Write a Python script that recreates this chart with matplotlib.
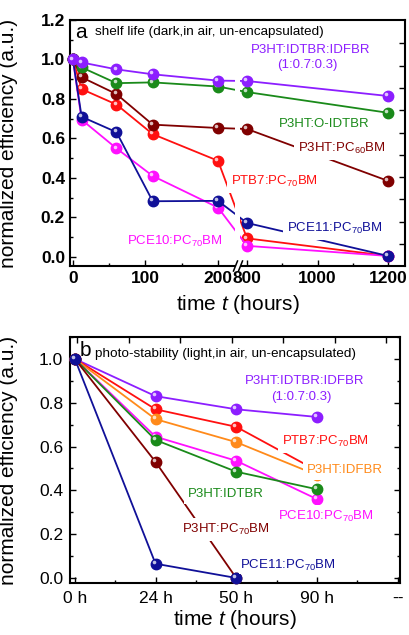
import numpy as np
import matplotlib.pyplot as plt
from matplotlib import transforms
from matplotlib.patches import Rectangle
from matplotlib.ticker import MultipleLocator, FixedLocator, FormatStrFormatter

plt.rcParams['font.family'] = ['Liberation Sans', 'DejaVu Sans']
plt.rcParams['mathtext.fontset'] = 'custom'
plt.rcParams['mathtext.rm'] = 'Liberation Sans'
plt.rcParams['mathtext.it'] = 'Liberation Sans:italic'
plt.rcParams['mathtext.bf'] = 'Liberation Sans:bold'

# panel a: shelf life (dark, in air)
shelf_hours = [0, 12, 60, 110, 200, 800, 1200]
shelf_ternary = [1.0, 0.985, 0.95, 0.925, 0.893, 0.891, 0.815]
shelf_oidtbr = [1.0, 0.96, 0.88, 0.884, 0.863, 0.835, 0.73]
shelf_pc60 = [1.0, 0.91, 0.825, 0.67, 0.653, 0.648, 0.385]
shelf_ptb7 = [1.0, 0.85, 0.772, 0.622, 0.487, 0.094, 0.005]
shelf_pce11 = [1.0, 0.71, 0.632, 0.282, 0.284, 0.172, 0.005]
shelf_pce10 = [1.0, 0.695, 0.55, 0.41, 0.25, 0.056, 0.005]

# panel b: photo-stability (light, in air)
photo_ticks = ['0 h', '24 h', '50 h', '90 h', '--']
photo_ternary = [1.0, 0.83, 0.77, 0.735]
photo_ptb7 = [1.0, 0.77, 0.69, 0.49]
photo_idfbr = [1.0, 0.725, 0.62, 0.47]
photo_pce10 = [1.0, 0.645, 0.535, 0.36]
photo_idtbr = [1.0, 0.63, 0.485, 0.405]
photo_pc70 = [1.0, 0.53, 0.0]
photo_pce11 = [1.0, 0.065, 0.0]

c_purple = '#8C1EFF'
c_green = '#1A8A1A'
c_dred = '#800000'
c_red = '#FF1010'
c_blue = '#101098'
c_mag = '#FF10FF'
c_orange = '#FF8A1A'


def series(ax, x, y, color, z):
    ax.plot(x, y, '-', color=color, lw=1.3, marker='o', ms=7.5, mfc=color, mec=color,
            zorder=z, clip_on=False)
    # little specular spot so the markers look like balls
    hl = transforms.offset_copy(ax.transData, fig=ax.figure, x=-1.3, y=1.3, units='points')
    ax.plot(x, y, 'o', ms=2.6, color='white', alpha=0.75, mec='none', transform=hl,
            zorder=z + 0.1, clip_on=False)


def tag(ax, x, y, s, color, pad=0.3):
    ax.text(x, y, s, color=color, fontsize=9.5, ha='center', va='baseline', zorder=20,
            bbox=dict(boxstyle='square,pad=%g' % pad, fc='white', ec='none'))


def style(ax, bold):
    for sp in ax.spines.values():
        sp.set_linewidth(1.5)
    ax.tick_params(which='major', direction='in', length=4, width=1.0)
    ax.tick_params(which='minor', direction='in', length=2.5, width=1.0)
    for lab in ax.get_xticklabels() + ax.get_yticklabels():
        lab.set_fontsize(12.5)
        if bold:
            lab.set_fontweight('bold')


# broken time axis: 0-200 h wide, 800-1200 h compressed
def fwd(x):
    return np.interp(x, [-100, 200, 800, 2000], [-69.65, 148, 177, 600.2])


def inv(u):
    return np.interp(u, [-69.65, 148, 177, 600.2], [-100, 200, 800, 2000])


fig = plt.figure(figsize=(4.10, 6.35), dpi=100)

# ---------------- panel a ----------------
ax = fig.add_axes([70 / 410, 1 - 266 / 635, 335 / 410, 246 / 635])
ax.set_xscale('function', functions=(fwd, inv))
ax.set_xlim(-4, 1248)
ax.set_ylim(-0.046, 1.2)

series(ax, shelf_hours, shelf_ptb7, c_red, 3)
series(ax, shelf_hours, shelf_pce10, c_mag, 4)
series(ax, shelf_hours, shelf_pce11, c_blue, 5)
series(ax, shelf_hours, shelf_pc60, c_dred, 6)
series(ax, shelf_hours, shelf_oidtbr, c_green, 7)
series(ax, shelf_hours, shelf_ternary, c_purple, 8)

ax.set_xticks([0, 100, 200, 800, 1000, 1200])
ax.xaxis.set_minor_locator(FixedLocator([50, 150, 900, 1100]))
ax.set_xticklabels(['0', '100', '200', '800', '1000', '1200'])
ax.yaxis.set_major_locator(MultipleLocator(0.2))
ax.yaxis.set_minor_locator(MultipleLocator(0.1))
ax.yaxis.set_major_formatter(FormatStrFormatter('%.1f'))
style(ax, True)
ax.tick_params(axis='x', which='both', pad=3.6, top=False)
ax.tick_params(axis='y', which='both', pad=3.6, right=False)

# right-hand ticks (own spacing, as in the original)
rt = ax.twinx()
rt.set_ylim(0, 246)
rt.set_yticks(np.arange(22, 230, 22.3))
rt.tick_params(axis='y', direction='in', length=4, width=1.0, labelright=False)
for sp in rt.spines.values():
    sp.set_visible(False)

# axis break
ax.add_patch(Rectangle((165.5 / 335, -0.012), 4.5 / 335, 0.99, transform=ax.transAxes,
                       fc='white', ec='none', zorder=15, clip_on=False))
for x0 in (233.5, 238.5):
    ax.plot([(x0 - 70) / 335, (x0 + 4 - 70) / 335], [-5 / 246, 5 / 246], color='k',
            lw=1.1, transform=ax.transAxes, clip_on=False, zorder=16)

ax.set_ylabel('normalized efficiency (a.u.)', fontsize=15)
ax.yaxis.set_label_coords(-0.155, 0.5)
ax.set_xlabel('time $t$ (hours)', fontsize=15)
ax.xaxis.set_label_coords(0.5, -0.11)

ax.text(5 / 335, 0.927, 'a', fontsize=15, transform=ax.transAxes, va='baseline', zorder=20)
ax.text(25 / 335, 0.939, 'shelf life (dark,in air, un-encapsulated)', fontsize=9.7,
        transform=ax.transAxes, va='baseline', zorder=20)
tag(ax, 981, 1.033, 'P3HT:IDTBR:IDFBR', c_purple)
tag(ax, 970, 0.957, '(1:0.7:0.3)', c_purple)
tag(ax, 1020, 0.658, 'P3HT:O-IDTBR', c_green)
tag(ax, 1069, 0.532, 'P3HT:PC$_{60}$BM', c_dred)
tag(ax, 879, 0.365, 'PTB7:PC$_{70}$BM', c_red)
tag(ax, 1050, 0.127, 'PCE11:PC$_{70}$BM', c_blue)
tag(ax, 141, 0.061, 'PCE10:PC$_{70}$BM', c_mag)

# ---------------- panel b ----------------
bx = fig.add_axes([70 / 410, 1 - 583 / 635, 330 / 410, 246 / 635])
bx.set_xlim(-0.06, 4.03)
bx.set_ylim(-0.023, 1.1)

series(bx, range(len(photo_ternary)), photo_ternary, c_purple, 3)
series(bx, range(len(photo_ptb7)), photo_ptb7, c_red, 4)
series(bx, range(len(photo_idfbr)), photo_idfbr, c_orange, 5)
series(bx, range(len(photo_pce10)), photo_pce10, c_mag, 6)
series(bx, range(len(photo_idtbr)), photo_idtbr, c_green, 7)
series(bx, range(len(photo_pc70)), photo_pc70, c_dred, 8)
series(bx, range(len(photo_pce11)), photo_pce11, c_blue, 9)

bx.set_xticks(range(len(photo_ticks)))
bx.set_xticklabels(photo_ticks)
bx.xaxis.set_minor_locator(FixedLocator([0.5, 1.5, 2.5, 3.5]))
bx.yaxis.set_major_locator(MultipleLocator(0.2))
bx.yaxis.set_minor_locator(MultipleLocator(0.1))
bx.yaxis.set_major_formatter(FormatStrFormatter('%.1f'))
style(bx, False)
bx.tick_params(axis='x', which='both', pad=5.8, top=False)
bx.tick_params(axis='y', which='both', pad=5.0, right=True)

tw = bx.twiny()
tw.set_xlim(70, 400)
tw.set_xticks(np.arange(77, 390, 51.5))
tw.tick_params(axis='x', direction='in', length=4, width=1.0, labeltop=False)
for sp in tw.spines.values():
    sp.set_visible(False)

bx.set_ylabel('normalized efficiency (a.u.)', fontsize=15)
bx.yaxis.set_label_coords(-0.158, 0.5)
bx.set_xlabel('time $t$ (hours)', fontsize=15)
bx.xaxis.set_label_coords(0.5, -0.1)

bx.text(10 / 330, 0.923, 'b', fontsize=15, transform=bx.transAxes, va='baseline', zorder=20)
bx.text(25 / 330, 0.919, 'photo-stability (light,in air, un-encapsulated)', fontsize=9.7,
        transform=bx.transAxes, va='baseline', zorder=20)
tag(bx, 2.85, 0.886, 'P3HT:IDTBR:IDFBR', c_purple)
tag(bx, 2.81, 0.813, '(1:0.7:0.3)', c_purple)
tag(bx, 3.10, 0.607, 'PTB7:PC$_{70}$BM', c_red)
tag(bx, 3.345, 0.479, 'P3HT:IDFBR', c_orange)
tag(bx, 1.87, 0.37, 'P3HT:IDTBR', c_green)
tag(bx, 3.11, 0.265, 'PCE10:PC$_{70}$BM', c_mag)
tag(bx, 1.865, 0.205, 'P3HT:PC$_{70}$BM', c_dred)
tag(bx, 2.64, 0.041, 'PCE11:PC$_{70}$BM', c_blue, pad=0.05)

fig.savefig('out.png', dpi=100)
